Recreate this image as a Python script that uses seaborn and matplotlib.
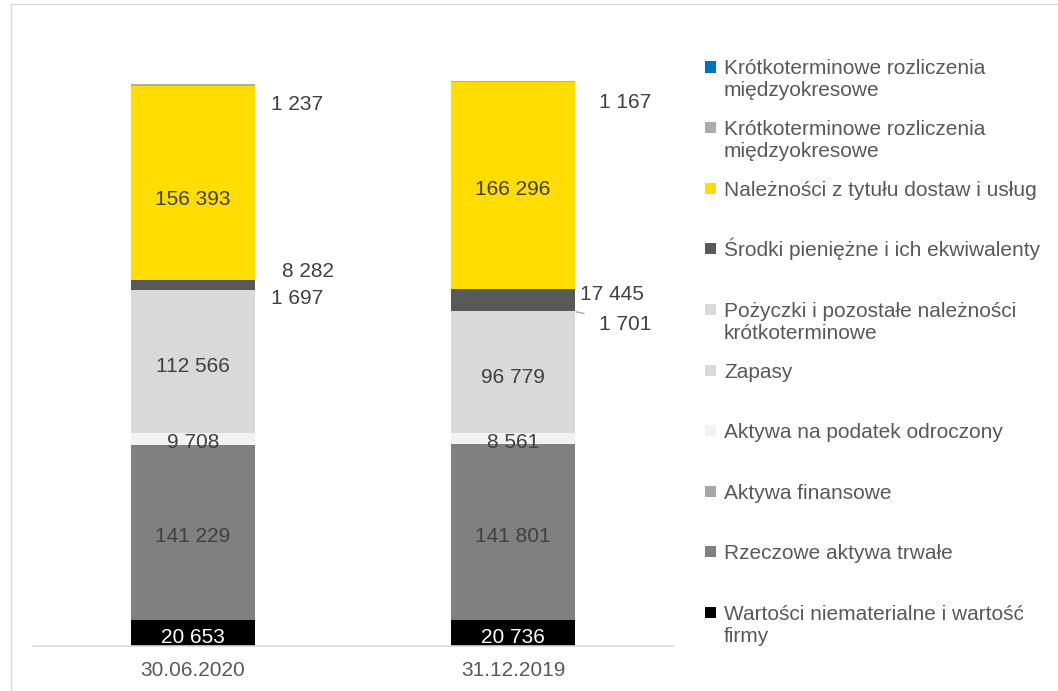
import matplotlib
matplotlib.use("Agg")
import matplotlib.pyplot as plt
from matplotlib.patches import Rectangle
from matplotlib.lines import Line2D
import numpy as np
import pandas as pd
import seaborn as sns

# ---- data -------------------------------------------------------------
categories = ["30.06.2020", "31.12.2019"]

# stacking order, bottom to top
series_names = [
    "Wartości niematerialne i wartość\nfirmy",
    "Rzeczowe aktywa trwałe",
    "Aktywa finansowe",
    "Aktywa na podatek odroczony",
    "Zapasy",
    "Pożyczki i pozostałe należności\nkrótkoterminowe",
    "Środki pieniężne i ich ekwiwalenty",
    "Należności z tytułu dostaw i usług",
    "Krótkoterminowe rozliczenia\nmiędzyokresowe",
    "Krótkoterminowe rozliczenia\nmiędzyokresowe ",
]
wartosci_niematerialne = [20653, 20736]
rzeczowe_aktywa = [141229, 141801]
aktywa_finansowe = [0, 0]
podatek_odroczony = [9708, 8561]
zapasy = [112566, 96779]
pozyczki = [1697, 1701]
srodki_pieniezne = [8282, 17445]
naleznosci = [156393, 166296]
rozliczenia_szare = [1237, 1167]
rozliczenia_niebieskie = [0, 0]

series_values = [
    wartosci_niematerialne, rzeczowe_aktywa, aktywa_finansowe,
    podatek_odroczony, zapasy, pozyczki, srodki_pieniezne,
    naleznosci, rozliczenia_szare, rozliczenia_niebieskie,
]

# ---- styling ----------------------------------------------------------
colors = ["#000000", "#808080", "#A6A6A6", "#F2F2F2", "#D9D9D9",
          "#D9D9D9", "#595959", "#FFDD00", "#AEAAAA", "#0070C0"]
label_mode = ["white", "in", None, "in", "in", "out", "out", "in", "out", None]
# offsets (points) of labels placed beside the bars, per bar
out_offsets = {
    5: [(11, -5), (17, -9)],
    6: [(19, 10), (3, 4)],
    8: [(11, -14), (17, -15)],
}
# vertical nudges (points) for labels inside the segments
in_offsets = {7: [-9, 0]}

sns.set_theme(style="white")
plt.rcParams["font.family"] = ["Liberation Sans", "DejaVu Sans"]
FS = 15
TXT = "#404040"
SUB = "#595959"

df = pd.DataFrame({name: vals for name, vals in zip(series_names, series_values)},
                  index=categories)
cum = df.cumsum(axis=1)

W, H = 1058, 691
fig = plt.figure(figsize=(W / 100, H / 100), dpi=100)
ax = fig.add_axes([33 / W, 45 / H, 640 / W, 622 / H])

bar_width = 0.39
# overlapping cumulative bars, drawn from the top segment down
for i in range(len(series_names) - 1, -1, -1):
    name = series_names[i]
    plot_df = pd.DataFrame({"kat": categories, "val": cum[name].values})
    sns.barplot(data=plot_df, x="kat", y="val", color=colors[i], saturation=1,
                width=bar_width, linewidth=0, errorbar=None, ax=ax)

ax.set_ylim(0, 500000)
ax.set_xlim(-0.5, 1.5)
ax.set_xlabel("")
ax.set_ylabel("")
ax.set_yticks([])
for s in ["top", "right", "left"]:
    ax.spines[s].set_visible(False)
ax.spines["bottom"].set_color("#D9D9D9")
ax.spines["bottom"].set_linewidth(1.2)
ax.tick_params(axis="x", length=0, pad=11, labelsize=FS, labelcolor=SUB)


def fmt(v):
    return f"{v:,}".replace(",", " ")


# value labels
for i, name in enumerate(series_names):
    mode = label_mode[i]
    if mode is None:
        continue
    vals = df[name].values
    tops = cum[name].values
    for j, v in enumerate(vals):
        center = tops[j] - v / 2
        if mode in ("in", "white"):
            dy = in_offsets.get(i, [0, 0])[j] - 3
            ax.annotate(fmt(v), xy=(j, center), xytext=(0, dy),
                        textcoords="offset points", ha="center", va="center",
                        fontsize=FS,
                        color="white" if mode == "white" else TXT)
        else:
            dx, dy = out_offsets[i][j]
            ax.annotate(fmt(v), xy=(j + bar_width / 2, center),
                        xytext=(dx, dy), textcoords="offset points",
                        ha="left", va="center", fontsize=FS, color=TXT)
            if i == 5 and j == 1:
                # short leader line from the thin segment
                x0 = j + bar_width / 2
                ax.plot([x0, x0 + 0.028], [center, center - 1500],
                        color="#A6A6A6", lw=1, solid_capstyle="butt")

# legend, top entry first
leg_x_sq, leg_x_txt = 705, 724
y0, step = 67, 60.6
line_gap = 22
for k, i in enumerate(range(len(series_names) - 1, -1, -1)):
    yc = y0 + k * step
    fig.add_artist(Rectangle((leg_x_sq / W, 1 - (yc + 5.5) / H), 11 / W, 11 / H,
                             transform=fig.transFigure, facecolor=colors[i],
                             edgecolor="none"))
    for n, line in enumerate(series_names[i].strip().split("\n")):
        fig.text(leg_x_txt / W, 1 - (yc + 7.5 + n * line_gap) / H, line,
                 ha="left", va="baseline", fontsize=FS, color=SUB)

# outer frame
fig.add_artist(Line2D([11 / W, 1], [1 - 4 / H, 1 - 4 / H],
                      transform=fig.transFigure, color="#D9D9D9", lw=1))
fig.add_artist(Line2D([11 / W, 11 / W], [0, 1 - 4 / H],
                      transform=fig.transFigure, color="#D9D9D9", lw=1))

fig.savefig("out.png", dpi=100, facecolor="white")
